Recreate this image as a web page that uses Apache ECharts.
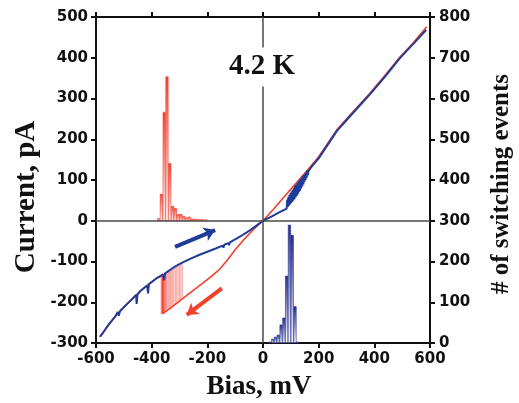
<!DOCTYPE html>
<html>
<head>
<meta charset="utf-8">
<script src="https://cdn.jsdelivr.net/npm/echarts@6/dist/echarts.min.js"></script>
<style>html,body{margin:0;padding:0;background:#fff}#c{width:519px;height:403px}</style>
</head>
<body>
<div id="c"></div>
<script>
// ---- data (Bias mV, Current pA) ----
const redUpperNeg = [[-588,-285],[-575,-274],[-560,-260],[-530,-234],[-500,-212],[-470,-192],[-440,-172],[-410,-155],[-380,-140],[-360,-131]];
const redLowerNeg = [[-360,-228],[-330,-213],[-300,-197],[-260,-176],[-220,-155],[-190,-139],[-160,-122],[-130,-98],[-100,-71],[-70,-47],[-35,-22],[0,0]];
const redPos = [[0,0],[40,30],[80,62],[120,93],[157,122],[200,157],[265,223],[320,265],[384,313],[440,358],[492,402],[540,437],[576,466],[588,476]];
const blueNeg = [[-584,-284],[-560,-260],[-530,-234],[-522,-224],[-518,-233],[-514,-222],[-500,-212],[-470,-192],[-456,-182],[-454,-204],[-451,-181],[-440,-172],[-416,-159],[-413,-178],[-410,-156],[-380,-140],[-358,-132],[-355,-146],[-352,-129],[-320,-114],[-290,-103],[-260,-93],[-230,-84],[-200,-76],[-170,-68],[-145,-61],[-142,-66],[-139,-59],[-125,-55],[-122,-60],[-119,-53],[-80,-38],[-50,-25],[-20,-10],[0,0]];
const bluePos = [[0,0],[30,10],[60,21],[85,30],[87,52],[89,34],[91,58],[93,37],[95,63],[97,40],[99,68],[101,43],[103,72],[105,46],[107,76],[109,50],[111,80],[113,53],[115,85],[117,57],[119,88],[121,61],[123,92],[125,65],[127,95],[129,70],[131,99],[133,74],[135,102],[137,79],[139,106],[141,84],[143,109],[145,89],[147,112],[149,95],[151,115],[153,100],[155,119],[157,106],[159,124],[161,112],[163,121],[175,133],[200,153],[265,220],[320,262],[384,310],[440,355],[492,399],[540,434],[586,468]];
const switchX = [-366,-364,-362,-360,-358,-356,-354,-352,-350,-347,-344,-340,-336,-332,-328,-324,-320,-315,-310,-305,-300,-295,-290];
const switchLow = [-229,-229,-228,-228,-227,-226,-225,-224,-223,-221,-220,-218,-216,-214,-212,-210,-207,-205,-202,-200,-197,-195,-192];
const switchHigh = [-133,-133,-132,-131,-131,-130,-129,-128,-127,-126,-125,-123,-121,-120,-118,-116,-114,-112,-110,-109,-107,-105,-103];
// histograms (bin centre mV, count)
const redHistX = [-375,-365,-355,-345,-335,-325,-315,-305,-295,-285,-275,-265,-255,-245,-235,-225,-215,-205];
const redHistN = [6,66,267,354,141,36,31,16,16,12,8,10,5,5,4,4,3,3];
const blueHistX = [25,35,45,55,65,75,85,95,105,115,125];
const blueHistN = [3,10,15,20,45,62,165,290,265,90,3];
// arrows
const blueArrow = [[-316,-64],[-172,-23]];
const redArrow = [[-148,-166],[-274,-231]];

const RED = '#f2402f', BLUE = '#1e3c98', NAVY = '#232c8c';
const redCurve = redUpperNeg.concat(redLowerNeg, redPos.slice(1));
const blueCurve = blueNeg.concat(bluePos.slice(1));
const switchLines = [];
switchX.forEach((x,i)=>{ switchLines.push([x,switchLow[i]],[x,switchHigh[i]],[null,null]); });
const grad = c => ({type:'linear',x:0,y:0,x2:0,y2:1,colorStops:[{offset:0,color:c},{offset:1,color:'rgba(255,255,255,0.9)'}]});

const tickLbl = {fontFamily:'"DejaVu Sans"', fontWeight:'bold', fontSize:15, color:'#111'};
const axLine = {show:true, onZero:false, lineStyle:{color:'#111', width:2}};
const axTick = {show:true, inside:false, length:5, lineStyle:{color:'#111', width:2}};

const chart = echarts.init(document.getElementById('c'), null, {renderer:'canvas'});
chart.setOption({
  animation:false,
  backgroundColor:'#fff',
  grid:{left:96, right:89, top:17, bottom:60},
  xAxis:[
    {type:'value', min:-600, max:600, interval:200, position:'bottom', axisLine:axLine, axisTick:axTick, splitLine:{show:false}, axisLabel:Object.assign({margin:9}, tickLbl)},
    {type:'value', min:-600, max:600, interval:200, position:'top', axisLine:axLine, axisTick:axTick, splitLine:{show:false}, axisLabel:{show:false}}
  ],
  yAxis:[
    {type:'value', min:-300, max:500, interval:100, position:'left', axisLine:axLine, axisTick:axTick, splitLine:{show:false}, axisLabel:Object.assign({margin:8}, tickLbl)},
    {type:'value', min:0, max:800, interval:100, position:'right', axisLine:axLine, axisTick:axTick, splitLine:{show:false}, axisLabel:Object.assign({margin:9}, tickLbl)}
  ],
  series:[
    {type:'line', name:'switch', data:switchLines, showSymbol:false, connectNulls:false, z:2,
     lineStyle:{color:RED, width:0.8, opacity:0.6},
     markLine:{silent:true, symbol:['none','none'], label:{show:false}, lineStyle:{color:'#4a4a4a', width:1.5, type:'solid'},
       data:[{xAxis:0},{yAxis:0}]}},
    {type:'line', name:'red', data:redCurve, showSymbol:false, z:3, lineStyle:{color:RED, width:1.6}},
    {type:'line', name:'blue', data:blueCurve, showSymbol:false, z:4, lineStyle:{color:BLUE, width:2}},
    {type:'bar', name:'redHist', xAxisIndex:0, yAxisIndex:0, data:redHistX.map((x,i)=>[x,redHistN[i]]), barWidth:3, barGap:'-100%', z:3,
     itemStyle:{color:grad(RED), borderColor:RED, borderWidth:0.6}},
    {type:'bar', name:'blueHist', xAxisIndex:0, yAxisIndex:1, data:blueHistX.map((x,i)=>[x,blueHistN[i]]), barWidth:3, barGap:'-100%', z:3,
     itemStyle:{color:grad(NAVY), borderColor:NAVY, borderWidth:0.6}},
    {type:'lines', coordinateSystem:'cartesian2d', z:5, symbol:['none','arrow'], symbolSize:11,
     data:[{coords:blueArrow, lineStyle:{color:BLUE}},{coords:redArrow, lineStyle:{color:RED}}],
     lineStyle:{width:4, opacity:1}}
  ],
  graphic:[
    {type:'text', x:262, y:67, z:10, style:{text:'4.2 K', font:'bold 29px "Liberation Serif", serif', fill:'#111', align:'center', verticalAlign:'middle', backgroundColor:'#fff', padding:[5,3]}},
    {type:'text', x:259, y:387, style:{text:'Bias, mV', font:'bold 27px "Liberation Serif", serif', fill:'#111', align:'center', verticalAlign:'middle'}},
    {type:'text', x:27, y:197, rotation:Math.PI/2, style:{text:'Current, pA', font:'bold 29px "Liberation Serif", serif', fill:'#111', align:'center', verticalAlign:'middle'}},
    {type:'text', x:502, y:184, rotation:Math.PI/2, style:{text:'# of switching events', font:'bold 25px "Liberation Serif", serif', fill:'#111', align:'center', verticalAlign:'middle'}}
  ]
});
</script>
</body>
</html>
